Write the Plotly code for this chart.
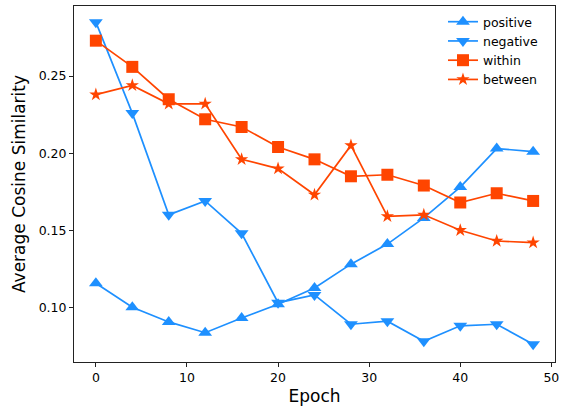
import plotly.graph_objects as go

epochs = [0, 4, 8, 12, 16, 20, 24, 28, 32, 36, 40, 44, 48]
positive = [0.1156, 0.100, 0.0905, 0.0835, 0.093, 0.102, 0.1125, 0.128, 0.141, 0.158, 0.178, 0.203, 0.201]
negative = [0.285, 0.226, 0.160, 0.169, 0.148, 0.103, 0.108, 0.089, 0.091, 0.078, 0.088, 0.089, 0.076]
within = [0.273, 0.256, 0.235, 0.222, 0.217, 0.204, 0.196, 0.185, 0.186, 0.179, 0.168, 0.174, 0.169]
between = [0.238, 0.244, 0.232, 0.232, 0.196, 0.190, 0.173, 0.205, 0.159, 0.160, 0.150, 0.143, 0.142]

series = [
    ("positive", positive, "#1E90FF", "triangle-up", 12),
    ("negative", negative, "#1E90FF", "triangle-down", 12),
    ("within", within, "#FF4500", "square", 12),
    ("between", between, "#FF4500", "star", 10),
]

fig = go.Figure()
for name, vals, color, sym, sz in series:
    fig.add_trace(go.Scatter(
        x=epochs, y=vals, name=name, mode="lines+markers",
        line=dict(color=color, width=1.7),
        marker=dict(symbol=sym, size=sz, color=color, line=dict(width=0)),
    ))

fig.update_layout(
    width=565, height=408,
    margin=dict(l=74, r=10, t=5, b=45),
    paper_bgcolor="white", plot_bgcolor="white",
    font=dict(family="DejaVu Sans", color="black", size=12),
    showlegend=True,
    legend=dict(x=0.975, y=0.997, xanchor="right", yanchor="top",
                bgcolor="rgba(0,0,0,0)", font=dict(size=12.5),
                itemwidth=30, tracegroupgap=0),
)
fig.update_xaxes(
    range=[-2.4, 50.4], tickvals=[0, 10, 20, 30, 40, 50],
    showgrid=False, zeroline=False,
    showline=True, linecolor="#222", linewidth=1, mirror=True,
    ticks="outside", ticklen=4, tickcolor="#222",
    tickfont=dict(size=12.5),
    title=dict(text="Epoch", font=dict(size=17), standoff=6),
)
fig.update_yaxes(
    range=[0.0645, 0.2955], tickvals=[0.10, 0.15, 0.20, 0.25], tickformat=".2f",
    showgrid=False, zeroline=False,
    showline=True, linecolor="#222", linewidth=1, mirror=True,
    ticks="outside", ticklen=4, tickcolor="#222",
    tickfont=dict(size=12.5),
    title=dict(text="Average Cosine Similarity", font=dict(size=17), standoff=8),
)

fig.write_html("out.html", config={"displayModeBar": False},
               post_script="document.body.style.margin='0';document.body.style.overflow='hidden';")
